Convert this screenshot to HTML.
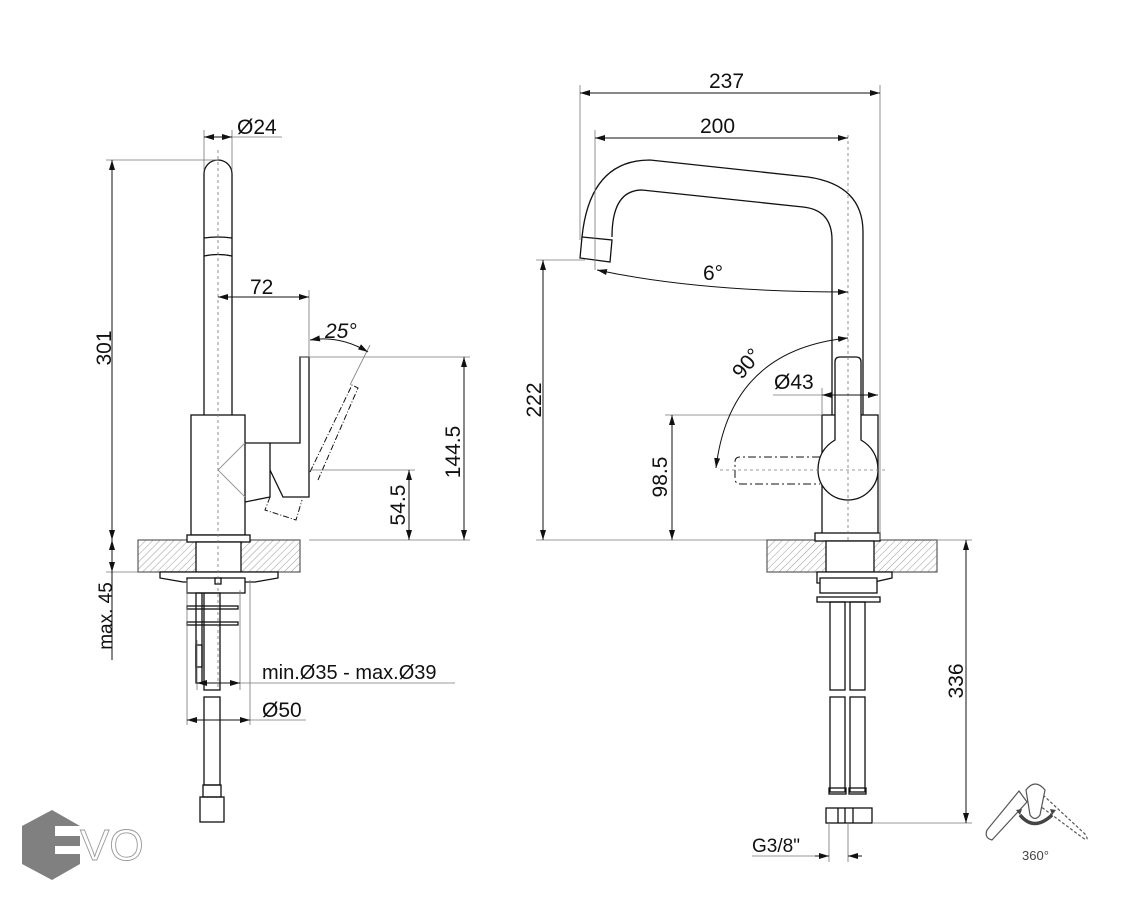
<!DOCTYPE html>
<html><head><meta charset="utf-8"><style>
html,body{margin:0;padding:0;background:#fff;width:1126px;height:900px;overflow:hidden}
text{font-family:"Liberation Sans",sans-serif}
</style></head><body>
<svg width="1126" height="900" viewBox="0 0 1126 900" xmlns="http://www.w3.org/2000/svg">
<defs>
<pattern id="h" width="5" height="5" patternUnits="userSpaceOnUse" patternTransform="rotate(45)"><line x1="0" y1="0" x2="0" y2="5" stroke="#999" stroke-width="1"/></pattern>
<marker id="a" viewBox="0 0 10 6" refX="10" refY="3" markerWidth="10" markerHeight="6" orient="auto-start-reverse" markerUnits="userSpaceOnUse"><path d="M0,0L10,3L0,6z" fill="#111"/></marker>
</defs>
<g fill="none" stroke="#111" stroke-width="1.3">
<rect x="138" y="540" width="162" height="32" fill="url(#h)" stroke="#666"/>
<path d="M204,415V174a14,14 0 0 1 28,0V415" fill="#fff"/>
<path d="M204,238q14,-2 28,0M204,256q14,-3 28,0"/>
<rect x="191" y="415" width="54" height="120" fill="#fff"/>
<rect x="187" y="535" width="63" height="7" fill="#fff"/>
<rect x="196" y="542" width="45" height="30" fill="#fff"/>
<path d="M245,443H270V497L245,502"/>
<path d="M270,443H300V357H309V497H283L270,470"/>
<path d="M245,443L218,470L245,497" stroke="#999" stroke-width="1"/>
<path d="M270,497L265,510L296,520L302,500M310,472L352,385L358,388L318,480" stroke-dasharray="6,2,1,2" stroke-width="1"/>
<path d="M160,572H278V578L255,582H183L160,578Z" fill="#fff"/>
<rect x="187" y="578" width="58" height="15" fill="#fff"/>
<rect x="215" y="578" width="6" height="6"/>
<rect x="204" y="593" width="16" height="97"/>
<rect x="187" y="606" width="51" height="3"/><rect x="187" y="622" width="51" height="3"/>
<rect x="196" y="593" width="6" height="90"/><rect x="196" y="645" width="6" height="22"/>
<rect x="204" y="697" width="16" height="88"/>
<rect x="203" y="785" width="18" height="12"/><rect x="200" y="797" width="24" height="25"/>
</g>
<g stroke="#777" stroke-width="0.8" fill="none">
<line x1="218" y1="150" x2="218" y2="690" stroke-dasharray="3,3"/>
<line x1="106" y1="160" x2="218" y2="160"/>
<line x1="204" y1="130" x2="204" y2="170"/><line x1="232" y1="130" x2="232" y2="170"/>
<line x1="232" y1="137" x2="282" y2="137"/>
<line x1="309" y1="290" x2="309" y2="357"/>
<line x1="300" y1="357" x2="470" y2="357"/>
<line x1="310" y1="470" x2="415" y2="470"/>
<line x1="309" y1="540" x2="470" y2="540"/>
<line x1="106" y1="572" x2="138" y2="572"/>
<line x1="370" y1="345" x2="350" y2="385"/>
<line x1="187" y1="580" x2="187" y2="725"/><line x1="250" y1="580" x2="250" y2="725"/>
<line x1="197" y1="640" x2="197" y2="690"/><line x1="240" y1="590" x2="240" y2="690"/>
<line x1="240" y1="683" x2="455" y2="683"/>
<line x1="250" y1="720" x2="306" y2="720"/>
</g>
<g stroke="#111" stroke-width="1" fill="none" marker-start="url(#a)" marker-end="url(#a)">
<line x1="112" y1="160" x2="112" y2="540"/>
<line x1="204" y1="137" x2="232" y2="137"/>
<line x1="218" y1="297" x2="309" y2="297"/>
<path d="M310,340Q340,335 368,352"/>
<line x1="464" y1="357" x2="464" y2="540"/>
<line x1="409" y1="470" x2="409" y2="540"/>
<line x1="112" y1="540" x2="112" y2="572"/>
<line x1="197" y1="683" x2="240" y2="683"/>
<line x1="187" y1="720" x2="250" y2="720"/>
</g>
<line x1="112" y1="572" x2="112" y2="660" stroke="#111"/>
<g font-size="21" style="fill:#111">
<text x="237" y="134">Ø24</text>
<text x="250" y="294">72</text>
<text x="325" y="338" font-style="italic">25°</text>
<text transform="translate(111,348) rotate(-90)" text-anchor="middle">301</text>
<text transform="translate(460,452) rotate(-90)" text-anchor="middle">144.5</text>
<text transform="translate(405,505) rotate(-90)" text-anchor="middle">54.5</text>
<text transform="translate(112,616) rotate(-90)" text-anchor="middle" font-size="19">max. 45</text>
<text x="262" y="679" font-size="20">min.Ø35 - max.Ø39</text>
<text x="262" y="717">Ø50</text>
</g>

<g fill="none" stroke="#111" stroke-width="1.3">
<rect x="767" y="540" width="170" height="32" fill="url(#h)" stroke="#666"/>
<path d="M863,415V232Q863,185 808,177L650,160Q590,160 582,237M832,415V240Q832,210 803,207L642,190Q612,190 612,237"/>
<path d="M582,237L612,240L610,262L580,258Z" fill="#fff"/>
<rect x="822" y="415" width="56" height="120" fill="#fff"/>
<path d="M835,440V362Q835,357 840,357H856Q861,357 861,362V440Q878,450 878,470A30,30 0 0 1 818,470Q818,450 835,440Z" fill="#fff"/>
<rect x="815" y="533" width="65" height="8" fill="#fff"/>
<rect x="826" y="541" width="48" height="31" fill="#fff"/>
<path d="M817,572H892V578L870,583H817Z" fill="#fff"/>
<rect x="820" y="578" width="57" height="15" fill="#fff"/>
<rect x="817" y="597" width="63" height="5"/>
<rect x="830" y="602" width="15" height="88"/><rect x="850" y="602" width="15" height="88"/>
<rect x="830" y="697" width="15" height="95"/><rect x="850" y="697" width="15" height="95"/>
<rect x="829" y="788" width="17" height="6"/><rect x="849" y="788" width="17" height="6"/>
<rect x="826" y="808" width="46" height="15"/>
<line x1="838" y1="808" x2="838" y2="823"/><line x1="845" y1="808" x2="845" y2="823"/><line x1="853" y1="808" x2="853" y2="823"/>
</g>
<path d="M820,457H740Q735,457 735,462V478Q735,484 740,484H820" fill="none" stroke="#111" stroke-width="1" stroke-dasharray="8,3,2,3"/>
<g stroke="#777" stroke-width="0.8" fill="none">
<line x1="848" y1="135" x2="848" y2="540" stroke-dasharray="3,3"/>
<line x1="720" y1="470" x2="888" y2="470" stroke-dasharray="3,3"/>
<line x1="580" y1="85" x2="580" y2="240"/><line x1="880" y1="85" x2="880" y2="540"/>
<line x1="595" y1="130" x2="595" y2="270"/>
<line x1="536" y1="260" x2="585" y2="260"/>
<line x1="536" y1="540" x2="767" y2="540"/>
<line x1="665" y1="415" x2="822" y2="415"/>
<line x1="822" y1="388" x2="822" y2="415"/>
<line x1="773" y1="395" x2="822" y2="395"/>
<line x1="937" y1="540" x2="972" y2="540"/>
<line x1="872" y1="823" x2="972" y2="823"/>
<line x1="829" y1="823" x2="829" y2="862"/><line x1="848" y1="823" x2="848" y2="862"/>
<line x1="752" y1="856" x2="829" y2="856"/>
</g>
<g stroke="#111" stroke-width="1" fill="none" marker-start="url(#a)" marker-end="url(#a)">
<line x1="580" y1="93" x2="880" y2="93"/>
<line x1="595" y1="138" x2="848" y2="138"/>
<line x1="543" y1="260" x2="543" y2="540"/>
<line x1="672" y1="415" x2="672" y2="540"/>
<line x1="822" y1="395" x2="878" y2="395"/>
<path d="M597,270Q700,292 848,292"/>
<path d="M848,338Q730,350 716,468"/>
<line x1="966" y1="540" x2="966" y2="823"/>
</g>
<line x1="815" y1="856" x2="829" y2="856" stroke="#111" marker-end="url(#a)"/>
<line x1="862" y1="856" x2="848" y2="856" stroke="#111" marker-end="url(#a)"/>
<g font-size="21" style="fill:#111">
<text x="709" y="88">237</text>
<text x="700" y="133">200</text>
<text x="703" y="280">6°</text>
<text transform="translate(752,368) rotate(-50)" text-anchor="middle">90°</text>
<text x="774" y="389">Ø43</text>
<text transform="translate(541,400) rotate(-90)" text-anchor="middle">222</text>
<text transform="translate(667,477) rotate(-90)" text-anchor="middle">98.5</text>
<text transform="translate(963,681) rotate(-90)" text-anchor="middle">336</text>
<text x="752" y="852" font-size="19">G3/8"</text>
</g>
<g fill="none" stroke="#555" stroke-width="1.2">
<path d="M1019,791L987,830Q984,838 992,840L1027,802Z" fill="#fff"/>
<path d="M1043,795L1085,834Q1090,842 1083,838L1040,806" stroke-dasharray="3,2"/>
<path d="M1026,790Q1035,778 1045,790L1040,815Q1035,822 1030,815Z" fill="#fff"/>
<path d="M1020,815Q1034,832 1052,815" stroke-width="3.5" stroke="#444"/>
</g>
<path d="M1016,810l6,-1l-2,6zM1056,810l-6,-1l2,6z" fill="#444"/>
<text x="1022" y="860" font-size="13" style="fill:#444">360°</text>
<path d="M52,810L80,826V864L52,880L22,864V826Z" fill="#808080"/>
<rect x="55" y="826" width="25" height="10" fill="#fff"/><rect x="55" y="846" width="25" height="8" fill="#fff"/>
<text x="80" y="860" font-size="44" style="fill:#fff;stroke:#999;stroke-width:0.9">VO</text>
</svg>
</body></html>
